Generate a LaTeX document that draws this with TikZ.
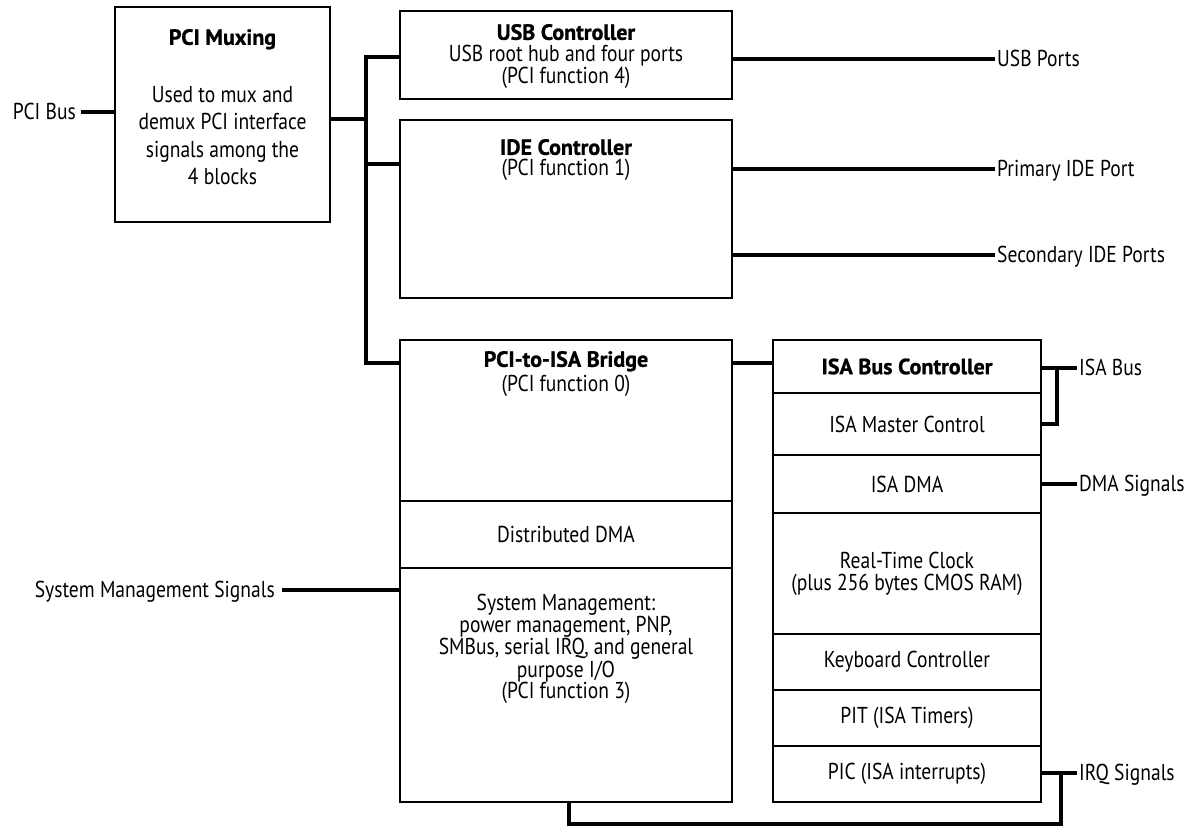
\documentclass[tikz,border=0pt]{standalone}
\usepackage{fontspec}
\setmainfont{PT Sans}[FakeStretch=0.85]
\newfontfamily\headfont{PT Sans}[BoldFeatures={FakeBold=1}]
\usetikzlibrary{positioning}

\begin{document}
\begin{tikzpicture}[x=1pt, y=-1pt,
    font=\fontsize{23}{22}\selectfont,
    box/.style={draw, line width=2.2pt, inner sep=0pt},
    wire/.style={line width=3.2pt},
    head/.style={font=\headfont\bfseries\fontsize{22}{22}\selectfont},
    lbl/.style={inner sep=2pt, text height=15pt, text depth=0pt},
    txt/.style={inner sep=0pt, align=center}]
\useasboundingbox (0,0) rectangle (1192,826);
% boxes
\node[box, minimum width=215pt, minimum height=215pt] (mux) at (222.5,114.5) {};
\node[box, minimum width=332pt, minimum height=88pt]  (usb) at (566,55) {};
\node[box, minimum width=332pt, minimum height=178pt] (ide) at (566,209) {};
\node[box, minimum width=332pt, minimum height=161pt] (br0) at (566,420.5) {};
\node[box, minimum width=332pt, minimum height=67pt]  (br1) at (566,534.5) {Distributed DMA};
\node[box, minimum width=332pt, minimum height=234pt] (br2) at (566,685) {};
\node[box, minimum width=268pt, minimum height=53pt, head] (is0) at (907,366.5) {ISA Bus Controller};
\node[box, minimum width=268pt, minimum height=62pt]  (is1) at (907,424) {ISA Master Control};
\node[box, minimum width=268pt, minimum height=58pt]  (is2) at (907,484) {ISA DMA};
\node[box, minimum width=268pt, minimum height=121pt, txt] (is3) at (907,573.5) {Real-Time Clock\\(plus 256 bytes CMOS RAM)};
\node[box, minimum width=268pt, minimum height=56pt]  (is4) at (907,662) {Keyboard Controller};
\node[box, minimum width=268pt, minimum height=56pt]  (is5) at (907,718) {PIT (ISA Timers)};
\node[box, minimum width=268pt, minimum height=56pt]  (is6) at (907,774) {PIC (ISA interrupts)};

% texts inside the boxes
\node[txt, head, below=23pt of mux.north] (muxtitle) {PCI Muxing};
\node[txt, below=80pt of mux.north, font=\fontsize{23}{27.5}\selectfont] (muxtext)
    {Used to mux and\\demux PCI interface\\signals among the\\4 blocks};
\node[txt, head, below=14pt of usb.north] (usbtitle) {USB Controller};
\node[txt, below=5pt of usbtitle] (usbtext) {USB root hub and four ports\\(PCI function 4)};
\node[txt, head, below=20pt of ide.north] (idetitle) {IDE Controller};
\node[txt, below=4pt of idetitle] (idetext) {(PCI function 1)};
\node[txt, head, below=12pt of br0.north] (brtitle) {PCI-to-ISA Bridge};
\node[txt, below=3pt of brtitle] (brtext) {(PCI function 0)};
\node[txt, below=27pt of br2.north, font=\fontsize{23}{21}\selectfont] (smtext)
    {System Management:\\power management, PNP,\\SMBus, serial IRQ, and general\\purpose I/O\\(PCI function 3)};

% outside labels
\node[lbl, inner sep=5pt, anchor=east] (pcibus) at (81,112) {PCI Bus};
\node[lbl, anchor=west] (usbp)   at (995,59) {USB Ports};
\node[lbl, anchor=west] (pri)    at (995,169) {Primary IDE Port};
\node[lbl, anchor=west] (sec)    at (995,255) {Secondary IDE Ports};
\node[lbl, anchor=west] (isabus) at (1077,368) {ISA Bus};
\node[lbl, anchor=west] (dma)    at (1077,484) {DMA Signals};
\node[lbl, anchor=west] (irq)    at (1077,773) {IRQ Signals};
\node[lbl, inner sep=7pt, anchor=east] (smsig) at (282,590) {System Management Signals};

% junctions
\coordinate (jtop) at (366,57);
\coordinate (jmux) at (366,119);
\coordinate (jmid) at (366,164);
\coordinate (jbot) at (366,363);
\coordinate (jisa) at (1057,368);
\coordinate (jirq) at (1061,824);
\coordinate (jlow) at (569,824);

% connectors
\draw[wire] (pcibus.east) -- (pcibus.east -| mux.west);
\draw[wire] (mux.east |- jmux) -- (jmux);
\draw[wire] (usb.west |- jtop) -- (jtop) -- (jbot) -- (br0.west |- jbot);
\draw[wire] (jmid) -- (ide.west |- jmid);
\draw[wire] (usb.east |- usbp.west) -- (usbp.west);
\draw[wire] (ide.east |- pri.west) -- (pri.west);
\draw[wire] (ide.east |- sec.west) -- (sec.west);
\draw[wire] (br0.east |- jbot) -- (is0.west |- jbot);
\draw[wire] (is0.east |- isabus.west) -- (isabus.west);
\draw[wire] (jisa) |- (is1.east);
\draw[wire] (is2.east) -- (dma.west);
\draw[wire] (is6.east |- irq.west) -- (irq.west);
\draw[wire] (irq.west -| jirq) -- (jirq) -- (jlow) -- (br2.south -| jlow);
\draw[wire] (smsig.east) -- (smsig.east -| br2.west);
\end{tikzpicture}
\end{document}
